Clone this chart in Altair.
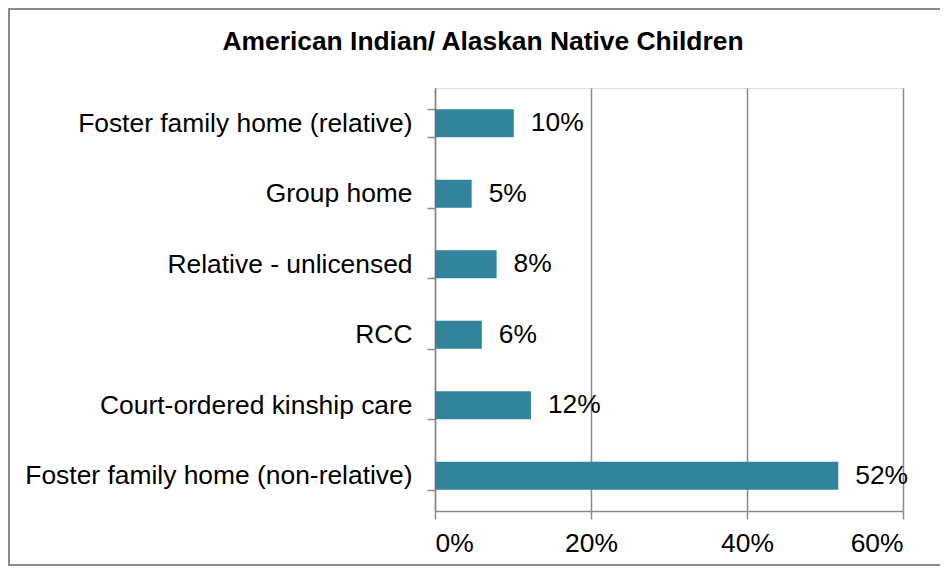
import altair as alt
import pandas as pd

categories = [
    "Foster family home (relative)",
    "Group home",
    "Relative - unlicensed",
    "RCC",
    "Court-ordered kinship care",
    "Foster family home (non-relative)",
]
values = [0.101, 0.047, 0.079, 0.060, 0.123, 0.517]
labels = ["10%", "5%", "8%", "6%", "12%", "52%"]
x_ticks = [0, 0.2, 0.4, 0.6]
title_text = "American Indian/ Alaskan Native Children"

df = pd.DataFrame({"cat": categories, "val": values, "lab": labels})

FONT = "Liberation Sans"
GRID = "#8a8a8a"
BAR = "#31849B"
FS = 26.4

W, H = 468, 423
PL, PT, PR, PB = 427, 80, 37, 55

y_enc = alt.Y(
    "cat:N",
    sort=categories,
    title=None,
    scale=alt.Scale(paddingInner=0.6, paddingOuter=0.3),
    axis=alt.Axis(
        labelFontSize=FS,
        labelFont=FONT,
        labelColor="black",
        labelPadding=15,
        labelLimit=500,
        tickBand="extent",
        tickSize=8,
        tickColor=GRID,
        tickWidth=1.5,
        domainColor=GRID,
        domainWidth=1.5,
        grid=False,
    ),
)

x_enc = alt.X(
    "val:Q",
    title=None,
    scale=alt.Scale(domain=[0, 0.6], nice=False),
    axis=alt.Axis(
        values=x_ticks,
        format=".0%",
        labelFontSize=FS,
        labelFont=FONT,
        labelColor="black",
        labelPadding=11,
        tickSize=8,
        tickColor=GRID,
        tickWidth=1.5,
        domainColor=GRID,
        domainWidth=1.5,
        grid=True,
        gridColor=GRID,
        gridWidth=1.5,
    ),
)

bars = alt.Chart(df).mark_bar(color=BAR).encode(x=x_enc, y=y_enc)

text = alt.Chart(df).mark_text(
    align="left", baseline="middle", dx=17, fontSize=FS, font=FONT, color="black"
).encode(x="val:Q", y=alt.Y("cat:N", sort=categories), text="lab:N")

one = pd.DataFrame({"t": [title_text]})

title = alt.Chart(one).mark_text(
    align="center", baseline="middle", fontSize=26.4, fontWeight="bold",
    font=FONT, color="black"
).encode(x=alt.value(48), y=alt.value(-46), text="t:N")

border = alt.Chart(one).mark_rect(
    filled=False, stroke="#8c8c8c", strokeWidth=2
).encode(
    x=alt.value(-PL + 1),
    x2=alt.value(W + PR + 10),
    y=alt.value(-PT + 1),
    y2=alt.value(H + PB - 1),
)

chart = (
    alt.layer(border, bars, text, title)
    .properties(
        width=W,
        height=H,
        padding={"left": PL, "top": PT, "right": PR, "bottom": PB},
        autosize=alt.AutoSizeParams(type="none"),
    )
    .configure_view(stroke=None)
    .configure(background="white")
)

chart.save("out.html", embed_options={"renderer": "svg", "actions": False})
